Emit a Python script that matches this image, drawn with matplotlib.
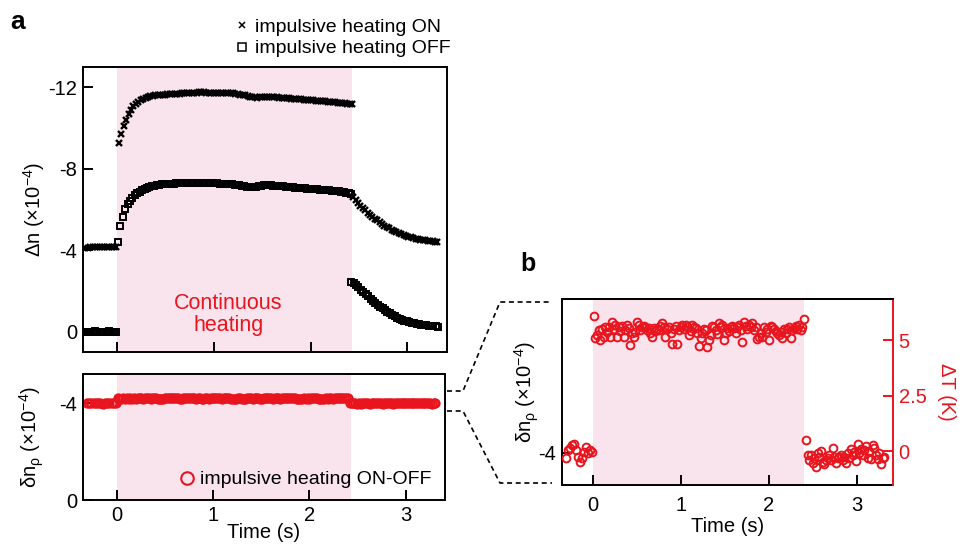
import numpy as np
import matplotlib
matplotlib.use("Agg")
import matplotlib.pyplot as plt
from matplotlib.lines import Line2D

plt.rcParams['font.family'] = ['Liberation Sans', 'DejaVu Sans']
plt.rcParams['mathtext.fontset'] = 'custom'
plt.rcParams['mathtext.rm'] = 'Liberation Sans'
plt.rcParams['mathtext.it'] = 'Liberation Sans:italic'
plt.rcParams['axes.unicode_minus'] = False

# ---------------- data ----------------
HEAT_START, HEAT_END = 0.0, 2.43

# panel a (top): impulsive heating ON (x) and OFF (squares), Δn (×1e-4)
on_before = [-4.10, -4.13, -4.15, -4.16, -4.16, -4.17, -4.16, -4.17, -4.17, -4.16,
             -4.17, -4.17, -4.18, -4.18]
off_before = [0.0, 0.0, 0.01, 0.0, -0.01, 0.0, 0.0, 0.01, 0.0, 0.0, -0.01, 0.0, 0.0, 0.0]
on_heat = [-9.25, -9.70, -10.10, -10.42, -10.68, -10.90, -11.07, -11.20, -11.30, -11.38,
           -11.44, -11.49, -11.53, -11.56, -11.58, -11.60, -11.61, -11.62, -11.63, -11.64,
           -11.65, -11.66, -11.67, -11.68, -11.68, -11.69, -11.70, -11.70, -11.71, -11.72,
           -11.72, -11.73, -11.74, -11.75, -11.75, -11.75, -11.74, -11.74, -11.73, -11.73,
           -11.72, -11.72, -11.72, -11.71, -11.71, -11.70, -11.70, -11.70, -11.68, -11.66,
           -11.64, -11.62, -11.60, -11.58, -11.55, -11.53, -11.51, -11.50, -11.51, -11.53,
           -11.54, -11.55, -11.54, -11.53, -11.52, -11.51, -11.50, -11.49, -11.48, -11.47,
           -11.46, -11.45, -11.44, -11.43, -11.42, -11.41, -11.40, -11.39, -11.38, -11.37,
           -11.36, -11.35, -11.34, -11.33, -11.32, -11.31, -11.30, -11.28, -11.27, -11.26,
           -11.25, -11.24, -11.22, -11.21, -11.19, -11.18, -11.16]
off_heat = [-4.40, -5.20, -5.65, -6.00, -6.25, -6.43, -6.57, -6.69, -6.79, -6.87,
            -6.94, -7.00, -7.05, -7.09, -7.13, -7.16, -7.19, -7.21, -7.23, -7.24,
            -7.25, -7.26, -7.27, -7.27, -7.28, -7.28, -7.29, -7.29, -7.29, -7.30,
            -7.30, -7.30, -7.30, -7.31, -7.31, -7.31, -7.30, -7.30, -7.29, -7.29,
            -7.28, -7.28, -7.27, -7.26, -7.26, -7.25, -7.24, -7.23, -7.22, -7.20,
            -7.18, -7.16, -7.14, -7.12, -7.11, -7.10, -7.10, -7.12, -7.15, -7.17,
            -7.18, -7.19, -7.19, -7.18, -7.17, -7.16, -7.15, -7.14, -7.13, -7.12,
            -7.11, -7.10, -7.09, -7.08, -7.07, -7.06, -7.05, -7.04, -7.03, -7.02,
            -7.01, -7.00, -6.99, -6.98, -6.97, -6.96, -6.95, -6.94, -6.93, -6.92,
            -6.90, -6.89, -6.87, -6.85, -6.83, -6.80, -6.76]
on_after = [-6.60, -6.45, -6.32, -6.19, -6.07, -5.96, -5.85, -5.75, -5.65, -5.55,
            -5.46, -5.37, -5.29, -5.21, -5.14, -5.07, -5.00, -4.94, -4.88, -4.83,
            -4.78, -4.74, -4.70, -4.66, -4.63, -4.60, -4.57, -4.55, -4.52, -4.50,
            -4.48, -4.46, -4.45, -4.43, -4.42, -4.41]
off_after = [-2.45, -2.38, -2.28, -2.18, -2.07, -1.97, -1.86, -1.75, -1.62, -1.52,
             -1.42, -1.32, -1.23, -1.14, -1.06, -0.98, -0.90, -0.82, -0.75, -0.69,
             -0.63, -0.58, -0.54, -0.50, -0.47, -0.44, -0.41, -0.39, -0.37, -0.35,
             -0.33, -0.31, -0.30, -0.28, -0.27, -0.26, -0.25]

# panel b: ON-OFF difference expressed as temperature rise ΔT (K)
dT_before = [-0.30, 0.05, 0.15, 0.25, 0.30, 0.05, -0.27, -0.50, -0.30, -0.05,
             0.20, -0.10, 0.05, -0.05]
dT_heat = [6.08, 5.08, 5.23, 5.45, 5.00, 5.48, 5.15, 5.60, 5.38, 5.57,
           5.15, 5.83, 5.48, 5.68, 5.15, 5.57, 5.42, 5.63, 5.15, 5.45,
           5.68, 5.53, 4.77, 5.30, 5.15, 5.38, 5.83, 5.68, 5.45, 5.57,
           5.63, 5.57, 5.45, 5.53, 5.33, 5.15, 5.53, 5.42, 5.48, 5.45,
           5.63, 5.78, 5.57, 5.15, 5.48, 5.60, 5.30, 4.82, 5.48, 5.63,
           4.82, 5.45, 5.57, 5.68, 5.48, 5.68, 5.57, 5.23, 5.42, 5.68,
           5.57, 5.53, 5.33, 4.73, 5.08, 5.30, 5.48, 5.45, 4.70, 5.00,
           5.23, 5.63, 5.57, 5.45, 5.27, 5.78, 5.57, 5.68, 5.00, 5.33,
           5.53, 5.42, 5.60, 5.63, 5.53, 5.33, 5.57, 5.68, 5.45, 4.92,
           5.83, 5.63, 5.48, 5.68, 5.57, 5.75, 5.45, 5.57, 5.03, 5.15,
           5.30, 5.15, 5.60, 5.38, 5.48, 5.00, 5.63, 5.57, 5.48, 5.42,
           5.33, 5.23, 5.38, 5.08, 5.48, 5.30, 5.48, 5.57, 5.08, 5.45,
           5.53, 5.63, 5.48, 5.68, 5.45, 5.57, 5.93]
dT_after = [0.50, -0.18, -0.41, -0.18, -0.56, -0.33, -0.71, -0.11, -0.26, 0.02,
            -0.48, -0.59, -0.41, -0.33, -0.18, -0.41, 0.12, -0.26, -0.53, -0.33,
            -0.26, -0.18, -0.41, -0.26, -0.56, -0.11, -0.33, 0.08, -0.18, -0.03,
            -0.44, 0.32, -0.11, 0.08, -0.18, 0.05, 0.23, -0.33, 0.02, -0.38,
            0.27, 0.12, -0.18, -0.38, -0.11, -0.59, -0.33, -0.26]
# calibration between δnρ (×1e-4) and ΔT
DN_BASE = -4.0
DN_PER_K = 0.035

# sampling windows (s): (first sample, last sample)
win_on_before, win_off_before = (-0.325, -0.005), (-0.325, -0.005)
win_on_heat, win_off_heat = (0.02, 2.43), (0.01, 2.42)
win_on_after, win_off_after = (2.44, 3.31), (2.42, 3.32)
win_b_before, win_b_heat, win_b_after = (-0.31, -0.005), (0.01, 2.40), (2.42, 3.31)


def times(win, vals):
    return np.linspace(win[0], win[1], len(vals))


t_on = np.concatenate([times(win_on_before, on_before), times(win_on_heat, on_heat),
                       times(win_on_after, on_after)])
v_on = np.concatenate([on_before, on_heat, on_after])
t_off = np.concatenate([times(win_off_before, off_before), times(win_off_heat, off_heat),
                        times(win_off_after, off_after)])
v_off = np.concatenate([off_before, off_heat, off_after])
t_b = np.concatenate([times(win_b_before, dT_before), times(win_b_heat, dT_heat),
                      times(win_b_after, dT_after)])
v_dT = np.concatenate([dT_before, dT_heat, dT_after])
v_dn = DN_BASE - DN_PER_K * v_dT

# ---------------- style ----------------
RED = '#e8141e'
PINK = '#f9e3ec'
FS = 14.5
W, H = 959, 548

fig = plt.figure(figsize=(W / 100, H / 100), dpi=100)


def rect(l, t, r, b):
    return [l / W, 1 - b / H, (r - l) / W, (b - t) / H]


def style(ax):
    for s in ax.spines.values():
        s.set_linewidth(1.4)
    ax.tick_params(direction='in', length=7, width=1.4, labelsize=FS,
                   top=False, right=False, pad=4)


ax1 = fig.add_axes(rect(83, 67, 447, 352))
ax2 = fig.add_axes(rect(83, 374, 445, 500))
axb = fig.add_axes(rect(562, 299, 893, 485))

XL = (-0.35, 3.41)

# top panel a
style(ax1)
ax1.axvspan(HEAT_START, HEAT_END, color=PINK, lw=0, zorder=0)
ax1.plot(t_on, v_on, ls='none', marker='x', ms=5.0, mew=1.7, color='black')
ax1.plot(t_off, v_off, ls='none', marker='s', ms=4.5, mew=1.4, mfc='none', color='black')
ax1.set_xlim(XL)
ax1.set_ylim(1.0, -13.0)
ax1.set_yticks([-12, -8, -4, 0])
ax1.set_yticklabels(['-12', '-8', '-4', '0'])
ax1.set_xticks([0, 1, 2, 3])
ax1.tick_params(labelbottom=False)
ax1.set_ylabel('Δn (×10$^{-4}$)', fontsize=FS, labelpad=1)
ax1.text(1.15, -0.85, 'Continuous\nheating', color=RED, fontsize=15.5, ha='center',
         va='center', linespacing=1.05)
leg_handles = [Line2D([], [], ls='none', marker='x', ms=5, mew=1.1, color='black'),
               Line2D([], [], ls='none', marker='s', ms=6, mew=1.1, mfc='none', color='black')]
ax1.legend(leg_handles, ['impulsive heating ON', 'impulsive heating OFF'],
           loc='lower right', bbox_to_anchor=(1.02, 1.02), frameon=False,
           fontsize=14, handlelength=0.6, handletextpad=0.35, labelspacing=0.2,
           borderaxespad=0, borderpad=0.2)

# bottom panel a
style(ax2)
ax2.axvspan(HEAT_START, HEAT_END, color=PINK, lw=0, zorder=0)
ax2.plot(t_b, v_dn, ls='none', marker='o', ms=5.8, mew=1.6, mfc='none', color=RED)
ax2.set_xlim(XL)
ax2.set_ylim(0, -5.2)
ax2.set_yticks([-4, 0])
ax2.set_yticklabels(['-4', '0'])
ax2.set_xticks([0, 1, 2, 3])
ax2.set_xlabel('Time (s)', fontsize=FS, labelpad=-1)
ax2.set_ylabel('δn$_{\\mathrm{ρ}}$ (×10$^{-4}$)', fontsize=FS, labelpad=10)
ax2.legend([Line2D([], [], ls='none', marker='o', ms=9, mew=1.5, mfc='none', color=RED)],
           ['impulsive heating ON-OFF'], loc='lower right', bbox_to_anchor=(0.995, 0.0),
           frameon=False, fontsize=14, handlelength=0.8, handletextpad=0.3,
           borderaxespad=0.2)

# panel b
style(axb)
axb.axvspan(HEAT_START, 2.40, color=PINK, lw=0, zorder=0)
axb.set_xlim(XL)
axb.set_ylim(-3.9, -4.481)
axb.set_yticks([-4])
axb.set_yticklabels(['-4'])
axb.set_xticks([0, 1, 2, 3])
axb.tick_params(axis='x', pad=8)
axb.set_xlabel('Time (s)', fontsize=FS, labelpad=1)
axb.set_ylabel('δn$_{\\mathrm{ρ}}$ (×10$^{-4}$)', fontsize=FS, labelpad=-2)
axb.spines['right'].set_visible(False)

axT = axb.twinx()
for s in axT.spines.values():
    s.set_linewidth(1.4)
axT.spines['right'].set_color(RED)
axT.spines['left'].set_visible(False)
axT.spines['bottom'].set_visible(False)
axT.plot(t_b, v_dT, ls='none', marker='o', ms=5.6, mew=1.4, mfc='none', color=RED)
axT.set_xlim(XL)
axT.set_ylim(-1.53, 6.85)
axT.set_yticks([0, 2.5, 5])
axT.set_yticklabels(['0', '2.5', '5'])
axT.tick_params(axis='y', direction='in', length=7, width=1.4, colors=RED,
                labelsize=FS, pad=4)
axT.set_ylabel('ΔT (K)', color=RED, fontsize=FS, rotation=270, labelpad=21)

# panel letters
fig.text(10 / W, 1 - 22 / H, 'a', fontsize=19, fontweight='bold', va='center')
fig.text(520 / W, 1 - 264 / H, 'b', fontsize=18, fontweight='bold', va='center')

# zoom connector lines
def fline(xs, ys):
    fig.add_artist(Line2D([x / W for x in xs], [1 - y / H for y in ys],
                          transform=fig.transFigure, color='black', lw=1.2,
                          ls=(0, (3, 2.2))))

fline([447, 463, 500, 552], [391, 391, 302, 302])
fline([447, 463, 500, 552], [411, 411, 483, 483])

fig.savefig('out.png', dpi=100)
